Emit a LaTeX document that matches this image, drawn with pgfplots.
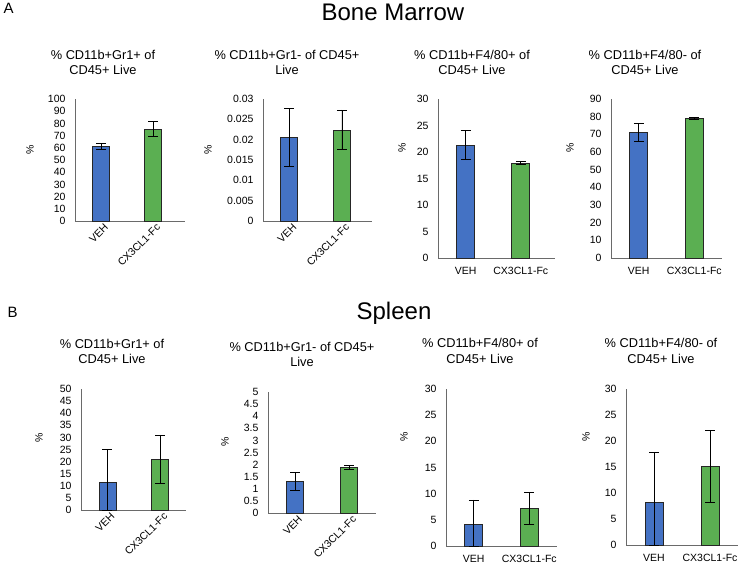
\documentclass[border=0pt]{standalone}
\usepackage{fontspec}
\setmainfont{Liberation Sans}
\usepackage{pgfplots}
\pgfplotsset{compat=1.18}

\definecolor{vehblue}{HTML}{4472C4}
\definecolor{cxgreen}{HTML}{5BAF52}
\definecolor{axgray}{HTML}{6A6A6A}

\pgfplotsset{
  panel/.style={
    scale only axis,
    axis x line=bottom, axis y line=left,
    axis line style={-, draw=axgray, line width=1pt},
    major tick length=0pt,
    enlargelimits=false,
    ymin=0, xmin=-0.5,
    xtick={0,1}, xticklabels={VEH,CX3CL1-Fc},
    ybar, bar width=17pt,
    tick label style={font=\fontsize{10.5}{12}\selectfont},
    yticklabel style={xshift=-6pt, /pgf/number format/fixed, /pgf/number format/precision=3},
    /pgf/number format/assume math mode=true,
    scaled y ticks=false,
    every axis plot/.append style={bar shift=0pt, draw=black!85, line width=0.7pt},
  },
  rot/.style={xticklabel style={rotate=45, anchor=east, xshift=4pt, yshift=-7pt}},
  flat/.style={xticklabel style={yshift=-6pt}},
  eb/.style={error bars/.cd, y dir=both, y explicit,
    error bar style={black, line width=0.8pt},
    error mark options={rotate=90, black, line width=0.8pt, mark size=5pt}},
}

\begin{document}
\begin{tikzpicture}
\path[use as bounding box] (0pt,0pt) rectangle (738pt,-566pt);

% headings
\node[anchor=base west, font=\fontsize{15}{18}\selectfont] at (0pt,-13pt) {A};
\node[anchor=base west, font=\fontsize{15}{18}\selectfont] at (4pt,-317pt) {B};
\node[font=\fontsize{24}{28}\selectfont] at (393pt,-12pt) {Bone Marrow};
\node[anchor=base, font=\fontsize{24}{28}\selectfont] at (394pt,-319pt) {Spleen};

% panel titles
\begin{scope}[every node/.style={anchor=base, font=\fontsize{12.8}{15}\selectfont, inner sep=0pt}]
\node at (103pt,-59pt) {\% CD11b+Gr1+ of};   \node at (103pt,-74pt) {CD45+ Live};
\node at (287pt,-59pt) {\% CD11b+Gr1- of CD45+}; \node at (287pt,-74pt) {Live};
\node at (472pt,-59pt) {\% CD11b+F4/80+ of}; \node at (472pt,-74pt) {CD45+ Live};
\node at (645pt,-59pt) {\% CD11b+F4/80- of}; \node at (645pt,-74pt) {CD45+ Live};
\node at (112pt,-348pt) {\% CD11b+Gr1+ of};  \node at (112pt,-363pt) {CD45+ Live};
\node at (302pt,-351pt) {\% CD11b+Gr1- of CD45+}; \node at (302pt,-366pt) {Live};
\node at (480pt,-347pt) {\% CD11b+F4/80+ of}; \node at (480pt,-363pt) {CD45+ Live};
\node at (661pt,-347pt) {\% CD11b+F4/80- of}; \node at (661pt,-363pt) {CD45+ Live};
\end{scope}

% y labels
\begin{scope}[every node/.style={rotate=90, font=\fontsize{10.5}{12}\selectfont}]
\node at (30pt,-150pt) {\%};  \node at (208pt,-150pt) {\%};
\node at (402pt,-148pt) {\%}; \node at (570pt,-148pt) {\%};
\node at (39pt,-438pt) {\%};  \node at (225pt,-442pt) {\%};
\node at (404pt,-437pt) {\%}; \node at (586pt,-437pt) {\%};
\end{scope}

% ---- Bone marrow ----
\begin{axis}[panel, rot, at={(75pt,-221pt)}, anchor=south west, width=110pt, height=122pt,
  xmax=1.615, ymax=100, ytick={0,10,...,100}]
  \addplot[fill=vehblue, eb] coordinates {(0,61) +- (0,2.7)};
  \addplot[fill=cxgreen, eb] coordinates {(1,75.5) +- (0,6.2)};
\end{axis}

\begin{axis}[panel, rot, at={(263pt,-221pt)}, anchor=south west, width=109pt, height=122pt,
  xmax=1.57, ymax=0.03, ytick={0,0.005,0.01,0.015,0.02,0.025,0.03}]
  \addplot[fill=vehblue, eb] coordinates {(0,0.0205) +- (0,0.0071)};
  \addplot[fill=cxgreen, eb] coordinates {(1,0.0224) +- (0,0.0049)};
\end{axis}

\begin{axis}[panel, flat, at={(438pt,-258pt)}, anchor=south west, width=117pt, height=159pt,
  xmax=1.62, ymax=30, ytick={0,5,...,30}, bar width=18pt]
  \addplot[fill=vehblue, eb] coordinates {(0,21.3) +- (0,2.7)};
  \addplot[fill=cxgreen, eb] coordinates {(1,17.9) +- (0,0.3)};
\end{axis}

\begin{axis}[panel, flat, at={(611pt,-258pt)}, anchor=south west, width=111pt, height=159pt,
  xmax=1.5, ymax=90, ytick={0,10,...,90}, bar width=18pt]
  \addplot[fill=vehblue, eb] coordinates {(0,71.1) +- (0,5.3)};
  \addplot[fill=cxgreen, eb] coordinates {(1,79.2) +- (0,0.5)};
\end{axis}

% ---- Spleen ----
\begin{axis}[panel, rot, at={(81pt,-510pt)}, anchor=south west, width=105pt, height=121pt,
  xmax=1.49, ymax=50, ytick={0,5,...,50}]
  \addplot[fill=vehblue, eb] coordinates {(0,11.3) += (0,13.8) -= (0,11.3)};
  \addplot[fill=cxgreen, eb] coordinates {(1,21.0) +- (0,10.0)};
\end{axis}

\begin{axis}[panel, rot, at={(268pt,-513pt)}, anchor=south west, width=108pt, height=121pt,
  xmax=1.5, ymax=5, ytick={0,0.5,...,5}]
  \addplot[fill=vehblue, eb] coordinates {(0,1.32) +- (0,0.37)};
  \addplot[fill=cxgreen, eb] coordinates {(1,1.90) +- (0,0.08)};
\end{axis}

\begin{axis}[panel, flat, at={(446pt,-546pt)}, anchor=south west, width=111pt, height=157pt,
  xmax=1.5, ymax=30, ytick={0,5,...,30}, bar width=18pt]
  \addplot[fill=vehblue, eb] coordinates {(0,4.2) += (0,4.6) -= (0,4.2)};
  \addplot[fill=cxgreen, eb] coordinates {(1,7.2) +- (0,3.0)};
\end{axis}

\begin{axis}[panel, flat, at={(626pt,-545pt)}, anchor=south west, width=112pt, height=156pt,
  xmax=1.5, ymax=30, ytick={0,5,...,30}, bar width=18pt]
  \addplot[fill=vehblue, eb] coordinates {(0,8.3) += (0,9.5) -= (0,8.3)};
  \addplot[fill=cxgreen, eb] coordinates {(1,15.1) +- (0,7.0)};
\end{axis}
\end{tikzpicture}
\end{document}
